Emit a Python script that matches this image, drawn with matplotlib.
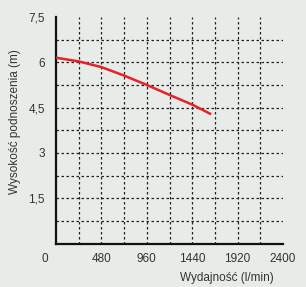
import matplotlib
matplotlib.use("Agg")
from matplotlib import pyplot as plt
from matplotlib.transforms import ScaledTranslation
import numpy as np

# pump curve
flow = [0, 240, 480, 720, 960, 1200, 1440, 1640]          # l/min
head = [6.15, 6.03, 5.84, 5.56, 5.25, 4.92, 4.60, 4.28]   # m

xticks = [0, 480, 960, 1440, 1920, 2400]
xticklabels = ['0', '480', '960', '1440', '1920', '2400']
yticks = [1.5, 3, 4.5, 6, 7.5]
yticklabels = ['1,5', '3', '4,5', '6', '7,5']
xgrid = [240, 480, 720, 960, 1200, 1440, 1680, 1920, 2160]
ygrid = [0.75, 1.5, 2.25, 3, 3.75, 4.5, 5.25, 6, 6.75]

plt.rcParams['font.family'] = ['Liberation Sans', 'DejaVu Sans']
txtcol = '#333333'

fig = plt.figure(figsize=(3.06, 2.87), dpi=100)
fig.patch.set_facecolor('#e8ece8')
ax = fig.add_axes([0.183, 0.151, 0.742, 0.790])
ax.set_facecolor('none')

ax.plot(flow, head, color='#e8202a', linewidth=1.8, solid_capstyle='butt', zorder=3)

ax.set_xlim(0, 2400)
ax.set_ylim(0, 7.5)

ax.set_xticks(xticks)
ax.set_xticklabels(xticklabels)
ax.set_yticks(yticks)
ax.set_yticklabels(yticklabels)
ax.set_xticks(xgrid, minor=True)
ax.set_yticks(ygrid, minor=True)
ax.xaxis.remove_overlapping_locs = False
ax.yaxis.remove_overlapping_locs = False
ax.grid(which='minor', color='#222222', linestyle=(0, (2, 2)), linewidth=0.9)
ax.grid(which='major', visible=False)

ax.tick_params(which='both', length=0)
ax.tick_params(axis='x', pad=7, labelsize=8.5, labelcolor=txtcol)
ax.tick_params(axis='y', pad=8, labelsize=8.5, labelcolor=txtcol)

# origin label sits left of the axis
lbl0 = ax.get_xticklabels()[0]
lbl0.set_transform(lbl0.get_transform() + ScaledTranslation(-11 / 100, 0, fig.dpi_scale_trans))

for s in ['top', 'right']:
    ax.spines[s].set_visible(False)
for s in ['left', 'bottom']:
    ax.spines[s].set_linewidth(1.6)
    ax.spines[s].set_color('#111111')

fig.text(227 / 306, 1 - 278 / 287, 'Wydajność (l/min)', ha='center', va='center',
         fontsize=8.5, color=txtcol)
fig.text(15 / 306, 1 - 122 / 287, 'Wysokość podnoszenia (m)', ha='center', va='center',
         rotation=90, fontsize=8.5, color=txtcol)

fig.savefig('out.png', dpi=100, facecolor=fig.get_facecolor())
